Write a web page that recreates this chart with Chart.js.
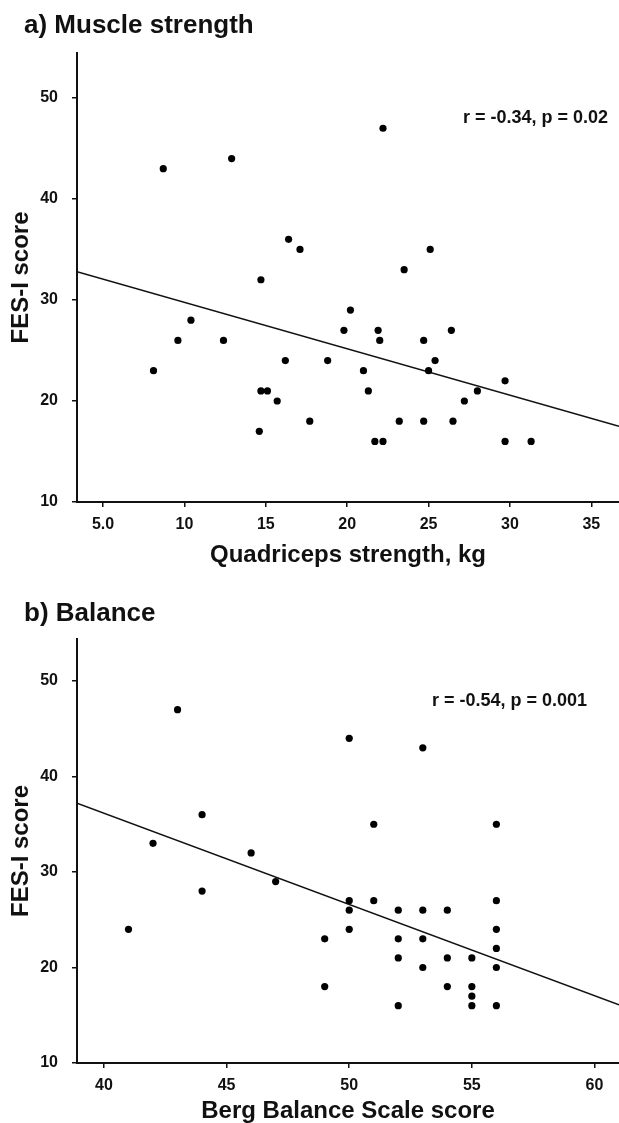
<!DOCTYPE html>
<html>
<head>
<meta charset="utf-8">
<script src="https://cdn.jsdelivr.net/npm/chart.js@4"></script>
<style>
  html, body { margin: 0; padding: 0; background: #fff; overflow: hidden; }
  .panel { position: relative; width: 619px; }
  canvas { display: block; }
</style>
</head>
<body>
<div class="panel"><canvas id="chartA" width="619" height="580"></canvas></div>
<div class="panel"><canvas id="chartB" width="619" height="543"></canvas></div>
<script>
// ---------- Panel a: Muscle strength ----------
const titleA = 'a) Muscle strength';
const xTitleA = 'Quadriceps strength, kg';
const yTitle = 'FES-I score';
const statA = 'r = -0.34, p = 0.02';
const strengthA = [8.7, 12.9, 16.4, 17.1, 22.2, 25.1, 23.5, 14.7, 8.1, 9.6, 10.4, 12.4, 16.2, 14.7, 15.1, 15.7, 14.6, 17.7,
                   20.2, 19.8, 21.9, 22.0, 18.8, 21.0, 21.3, 23.2, 24.7, 26.5, 21.7, 22.2, 24.7, 26.4, 25.4, 25.0, 28.0, 27.2, 29.7, 29.7, 31.3];
const fesA      = [43, 44, 36, 35, 47, 35, 33, 32, 23, 26, 28, 26, 24, 21, 21, 20, 17, 18,
                   29, 27, 27, 26, 24, 23, 21, 18, 18, 18, 16, 16, 26, 27, 24, 23, 21, 20, 22, 16, 16];
const fitXA = [3.4, 36.7];
const fitYA = [32.8, 17.5];
const xTicksA = [5, 10, 15, 20, 25, 30, 35];
const xTickLabelsA = ['5.0', '10', '15', '20', '25', '30', '35'];
const yTicks = [10, 20, 30, 40, 50];
const yTickLabels = ['10', '20', '30', '40', '50'];

// ---------- Panel b: Balance ----------
const titleB = 'b) Balance';
const xTitleB = 'Berg Balance Scale score';
const statB = 'r = -0.54, p = 0.001';
const bergB = [41, 42, 43, 44, 44, 46, 47, 49, 49, 50, 50, 50, 50, 51, 51, 52, 52, 52, 52, 53, 53, 53, 53, 54, 54, 54, 55, 55, 55, 55, 56, 56, 56, 56, 56, 56];
const fesB  = [24, 33, 47, 36, 28, 32, 29, 23, 18, 44, 27, 26, 24, 35, 27, 26, 23, 21, 16, 43, 26, 23, 20, 26, 21, 18, 21, 18, 17, 16, 35, 27, 24, 22, 20, 16];
const fitXB = [38.9, 61.0];
const fitYB = [37.2, 16.1];
const xTicksB = [40, 45, 50, 55, 60];
const xTickLabelsB = ['40', '45', '50', '55', '60'];

Chart.defaults.font.family = '"Liberation Sans", Arial, sans-serif';
Chart.defaults.color = '#111';

const tickFont = { family: '"Liberation Sans Narrow", "Liberation Sans", Arial, sans-serif', size: 16, weight: 'bold' };
const axisTitleFont = { size: 24, weight: 'bold', lineHeight: 1 };

const panelText = {
  id: 'panelText',
  afterDraw(chart, args, opts) {
    const ctx = chart.ctx;
    const ca = chart.chartArea;
    ctx.save();
    ctx.fillStyle = '#111';
    ctx.font = 'bold 26px "Liberation Sans", Arial, sans-serif';
    ctx.textAlign = 'left';
    ctx.textBaseline = 'alphabetic';
    ctx.fillText(opts.title, opts.titleX, opts.titleY);
    ctx.font = 'bold 18px "Liberation Sans", Arial, sans-serif';
    ctx.textAlign = 'right';
    ctx.textBaseline = 'middle';
    ctx.fillText(opts.stat, ca.right - opts.statDx, ca.top + opts.statDy);
    ctx.restore();
  }
};

function makeChart(id, cfg) {
  const pts = cfg.xs.map((x, i) => ({ x: x, y: cfg.ys[i] }));
  const fit = cfg.fitX.map((x, i) => ({ x: x, y: cfg.fitY[i] }));
  return new Chart(document.getElementById(id), {
    type: 'scatter',
    data: {
      datasets: [
        { data: pts, pointRadius: 3.6, pointHoverRadius: 3.6, backgroundColor: '#000', borderColor: '#000', borderWidth: 0 },
        { type: 'line', data: fit, borderColor: '#111', borderWidth: 1.6, pointRadius: 0, fill: false, tension: 0 }
      ]
    },
    options: {
      responsive: false,
      animation: false,
      devicePixelRatio: 1,
      layout: { autoPadding: false, padding: { top: cfg.top, left: 0, right: 0, bottom: 0 } },
      plugins: {
        legend: { display: false },
        tooltip: { enabled: false },
        title: { display: false },
        panelText: { title: cfg.title, titleX: 24, titleY: cfg.titleY, stat: cfg.stat, statDx: cfg.statDx, statDy: cfg.statDy }
      },
      scales: {
        x: {
          type: 'linear',
          min: cfg.xMin, max: cfg.xMax,
          afterBuildTicks: s => { s.ticks = cfg.xTicks.map(v => ({ value: v })); },
          afterFit: s => { s.height = cfg.xAxisH; s.paddingRight = 0; s.paddingLeft = 0; },
          ticks: { font: tickFont, color: '#111', padding: 8, maxRotation: 0, autoSkip: false,
                   callback: (v, i) => cfg.xTickLabels[i] },
          grid: { display: true, drawOnChartArea: false, drawTicks: true, tickLength: 5, color: '#111', lineWidth: 1.5 },
          border: { display: true, color: '#111', width: 2 },
          title: { display: true, text: cfg.xTitle, font: axisTitleFont, color: '#111', padding: { top: 0, bottom: cfg.xTitlePad } }
        },
        y: {
          type: 'linear',
          min: 10, max: cfg.yMax,
          afterBuildTicks: s => { s.ticks = yTicks.map(v => ({ value: v })); },
          afterFit: s => { s.width = 77; s.paddingTop = 0; s.paddingBottom = 0; },
          ticks: { font: tickFont, color: '#111', padding: 14, autoSkip: false,
                   callback: (v, i) => yTickLabels[i] },
          grid: { display: true, drawOnChartArea: false, drawTicks: true, tickLength: 5, color: '#111', lineWidth: 1.5 },
          border: { display: true, color: '#111', width: 2 },
          title: { display: true, text: yTitle, font: axisTitleFont, color: '#111', padding: { top: 9, bottom: 0 } }
        }
      }
    },
    plugins: [panelText]
  });
}

makeChart('chartA', {
  xs: strengthA, ys: fesA, fitX: fitXA, fitY: fitYA,
  xMin: 3.4, xMax: 36.7, yMax: 54.45,
  xTicks: xTicksA, xTickLabels: xTickLabelsA,
  xTitle: xTitleA, title: titleA, titleY: 33, stat: statA, statDx: 11, statDy: 65,
  top: 53, xAxisH: 78, xTitlePad: 13
});

makeChart('chartB', {
  xs: bergB, ys: fesB, fitX: fitXB, fitY: fitYB,
  xMin: 38.9, xMax: 61.0, yMax: 54.4,
  xTicks: xTicksB, xTickLabels: xTickLabelsB,
  xTitle: xTitleB, title: titleB, titleY: 41, stat: statB, statDx: 32, statDy: 62,
  top: 59, xAxisH: 60, xTitlePad: 0
});
</script>
</body>
</html>
